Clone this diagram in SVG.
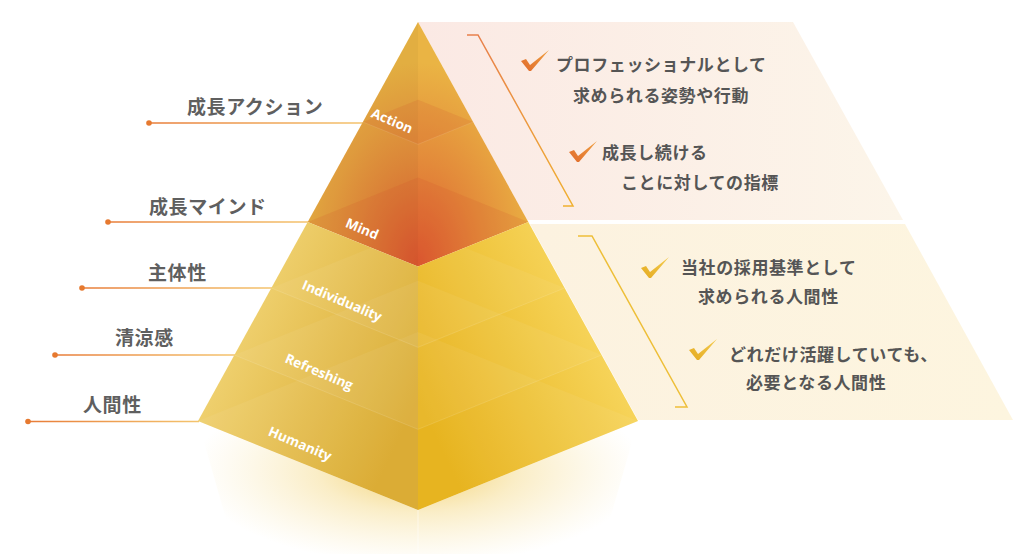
<svg xmlns="http://www.w3.org/2000/svg" width="1024" height="554" viewBox="0 0 1024 554">
<defs>
<style>
.lbl{font-family:"Noto Sans CJK JP","Noto Sans",sans-serif;font-weight:700;font-size:19px;fill:#5f5f5f;letter-spacing:0.6px}
.txt{font-family:"Noto Sans CJK JP","Noto Sans",sans-serif;font-weight:700;font-size:17px;fill:#555;letter-spacing:0.6px}
.en{font-family:"Open Sans","Noto Sans",sans-serif;font-weight:700;font-size:13.5px;fill:#fff;text-anchor:middle}
.lead{fill:none;stroke-width:1.3}
.dot{fill:#e6792f}
</style>
<linearGradient id="ld1" gradientUnits="userSpaceOnUse" x1="149" y1="0" x2="364" y2="0"><stop offset="0" stop-color="#e87c38"/><stop offset="1" stop-color="#f4c46e"/></linearGradient>
<linearGradient id="ld2" gradientUnits="userSpaceOnUse" x1="108" y1="0" x2="308" y2="0"><stop offset="0" stop-color="#e87c38"/><stop offset="1" stop-color="#f4c46e"/></linearGradient>
<linearGradient id="ld3" gradientUnits="userSpaceOnUse" x1="82" y1="0" x2="272" y2="0"><stop offset="0" stop-color="#e87c38"/><stop offset="1" stop-color="#f4c46e"/></linearGradient>
<linearGradient id="ld4" gradientUnits="userSpaceOnUse" x1="55" y1="0" x2="235" y2="0"><stop offset="0" stop-color="#e87c38"/><stop offset="1" stop-color="#f4c46e"/></linearGradient>
<linearGradient id="ld5" gradientUnits="userSpaceOnUse" x1="28" y1="0" x2="199" y2="0"><stop offset="0" stop-color="#e87c38"/><stop offset="1" stop-color="#f4c46e"/></linearGradient>
<linearGradient id="topPanel" gradientUnits="userSpaceOnUse" x1="418" y1="0" x2="903" y2="0">
<stop offset="0" stop-color="#fbe9e4"/><stop offset="1" stop-color="#fcf5e9"/>
</linearGradient>
<linearGradient id="botPanel" gradientUnits="userSpaceOnUse" x1="530" y1="0" x2="1013" y2="0">
<stop offset="0" stop-color="#fcf2e0"/><stop offset="1" stop-color="#fdf5df"/>
</linearGradient>
<linearGradient id="brk1" gradientUnits="userSpaceOnUse" x1="0" y1="35" x2="0" y2="206">
<stop offset="0" stop-color="#e8804c"/><stop offset="1" stop-color="#f0b030"/>
</linearGradient>
<linearGradient id="chkO" x1="0" y1="1" x2="1" y2="0">
<stop offset="0" stop-color="#e06a2c"/><stop offset="1" stop-color="#f0a040"/>
</linearGradient>
<linearGradient id="chkY" x1="0" y1="1" x2="1" y2="0">
<stop offset="0" stop-color="#e4aa20"/><stop offset="1" stop-color="#f4cc50"/>
</linearGradient>
<radialGradient id="topRad" gradientUnits="userSpaceOnUse" cx="418" cy="262" r="200" gradientTransform="translate(418 262) scale(0.62 1) translate(-418 -262)">
<stop offset="0" stop-color="#dd5a30"/><stop offset="0.5" stop-color="#e38a3a"/><stop offset="1" stop-color="#eab444"/>
</radialGradient>
<linearGradient id="lowL" gradientUnits="userSpaceOnUse" x1="210" y1="300" x2="418" y2="400">
<stop offset="0" stop-color="#f3d87c"/><stop offset="1" stop-color="#d9a82a"/>
</linearGradient>
<linearGradient id="lowR" gradientUnits="userSpaceOnUse" x1="418" y1="400" x2="630" y2="300">
<stop offset="0" stop-color="#e6b014"/><stop offset="1" stop-color="#fadc6a"/>
</linearGradient>
<radialGradient id="refl" gradientUnits="userSpaceOnUse" cx="418" cy="470" r="225" gradientTransform="translate(418 470) scale(1 0.42) translate(-418 -470)">
<stop offset="0" stop-color="#eebf3c" stop-opacity="0.75"/><stop offset="0.45" stop-color="#f0c850" stop-opacity="0.32"/><stop offset="1" stop-color="#f5d880" stop-opacity="0"/>
</radialGradient>
<clipPath id="lowClip"><polygon points="307.7,222 418,266.6 528.3,222 638,421 418,510 198,421"/></clipPath>
<path id="chk" d="M-9,-9 L-4,-11 L0,-5 L19,-20 L1,1 L-1,1 Z"/>
</defs>

<g id="panel-top">
<polygon points="418,22 793,22 903,220 527,220" fill="url(#topPanel)"/>
<polyline points="467,35 478,35 573,206 563,206" fill="none" stroke="url(#brk1)" stroke-width="1.5"/>
<use href="#chk" transform="translate(530 70)" fill="url(#chkO)"/>
<text class="txt" x="556" y="71">プロフェッショナルとして</text>
<text class="txt" x="573" y="102">求められる姿勢や行動</text>
<use href="#chk" transform="translate(578 161)" fill="url(#chkO)"/>
<text class="txt" x="602" y="159">成長し続ける</text>
<text class="txt" x="621" y="189">ことに対しての指標</text>
</g>

<g id="panel-bottom">
<polygon points="530,224 905,224 1013,420 638,420" fill="url(#botPanel)"/>
<polyline points="578,236 592,236 687,407 675,407" fill="none" stroke="#eebf38" stroke-width="1.5"/>
<use href="#chk" transform="translate(650 277)" fill="url(#chkY)"/>
<text class="txt" x="681" y="274">当社の採用基準として</text>
<text class="txt" x="698" y="303">求められる人間性</text>
<use href="#chk" transform="translate(698 359)" fill="url(#chkY)"/>
<text class="txt" x="729" y="361">どれだけ活躍していても、</text>
<text class="txt" x="746" y="389">必要となる人間性</text>
</g>

<g id="reflection">
<polygon points="198,421 418,510 638,421 600,554 236,554" fill="url(#refl)"/>
<line x1="418" y1="510" x2="418" y2="554" stroke="#fff" stroke-opacity="0.5" stroke-width="1"/>
</g>

<g id="connectors">
<line class="lead" stroke="url(#ld1)" x1="149" y1="123" x2="364" y2="123"/>
<line class="lead" stroke="url(#ld2)" x1="108" y1="222" x2="308" y2="222"/>
<line class="lead" stroke="url(#ld3)" x1="82" y1="288" x2="272" y2="288"/>
<line class="lead" stroke="url(#ld4)" x1="55" y1="355" x2="235" y2="355"/>
<line class="lead" stroke="url(#ld5)" x1="28" y1="421.5" x2="199" y2="421.5"/>
<circle class="dot" cx="149" cy="123" r="2.8"/>
<circle class="dot" cx="108" cy="222" r="2.8"/>
<circle class="dot" cx="82" cy="288" r="2.8"/>
<circle class="dot" cx="55" cy="355" r="2.8"/>
<circle class="dot" cx="28" cy="421.5" r="2.8"/>
</g>

<g id="pyramid">
<g id="upper">
<polygon points="418,22 307.7,222 418,266.6 528.3,222" fill="url(#topRad)"/>
<polygon points="418,22 307.7,222 418,266.6" fill="#000" fill-opacity="0.03"/>
<polygon points="362.9,122 418,99.7 473.1,122 418,144.3" fill="#d04a28" fill-opacity="0.14"/>
<polygon points="307.7,222 418,177.4 528.3,222 418,266.6" fill="#d04a28" fill-opacity="0.14"/>
<polyline points="362.9,122 418,144.3 473.1,122" fill="none" stroke="#fff" stroke-opacity="0.1"/>
</g>
<g id="lower">
<polygon points="307.7,222 418,266.6 418,510 198,421" fill="url(#lowL)"/>
<polygon points="418,266.6 528.3,222 638,421 418,510" fill="url(#lowR)"/>
<g clip-path="url(#lowClip)" fill="#fff" fill-opacity="0.055">
<polygon points="271.3,288 418,228.7 564.7,288 418,347.3"/>
<polygon points="234.4,355 418,280.7 601.6,355 418,429.3"/>
<polygon points="198,421 418,332 638,421 418,510"/>
</g>
<g fill="none" stroke="#fff" stroke-opacity="0.12">
<polyline points="271.3,288 418,347.3 564.7,288"/>
<polyline points="234.4,355 418,429.3 601.6,355"/>
</g>
</g>
</g>

<g id="label-action"><text class="lbl" x="187" y="114">成長アクション</text><text class="en" transform="translate(392 121) rotate(23)" dy="4.5">Action</text></g>
<g id="label-mind"><text class="lbl" x="149" y="214">成長マインド</text><text class="en" transform="translate(362 229) rotate(23)" dy="4.5">Mind</text></g>
<g id="label-individuality"><text class="lbl" x="148" y="280">主体性</text><text class="en" transform="translate(342 301) rotate(23)" dy="4.5">Individuality</text></g>
<g id="label-refreshing"><text class="lbl" x="115" y="345">清涼感</text><text class="en" transform="translate(319 372) rotate(23)" dy="4.5">Refreshing</text></g>
<g id="label-humanity"><text class="lbl" x="83" y="412">人間性</text><text class="en" transform="translate(300 444) rotate(23)" dy="4.5">Humanity</text></g>
</svg>
